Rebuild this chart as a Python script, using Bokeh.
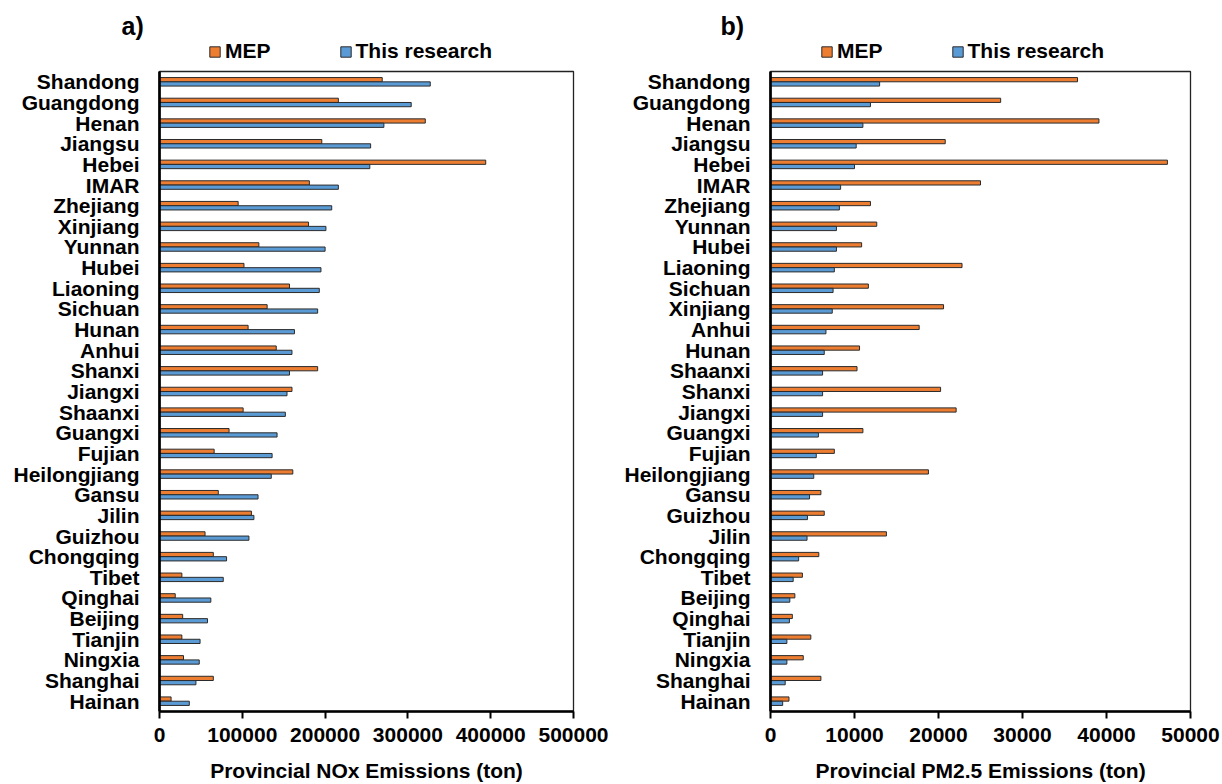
from bokeh.plotting import figure
from bokeh.layouts import row, column
from bokeh.models import (ColumnDataSource, FactorRange, Range1d, FixedTicker,
                          NumeralTickFormatter, Legend, LegendItem, Label)
from bokeh.transform import dodge
from bokeh.embed import file_html
from bokeh.resources import INLINE

# ---------------- data ----------------
nox_provinces = ["Shandong", "Guangdong", "Henan", "Jiangsu", "Hebei", "IMAR", "Zhejiang",
                 "Xinjiang", "Yunnan", "Hubei", "Liaoning", "Sichuan", "Hunan", "Anhui",
                 "Shanxi", "Jiangxi", "Shaanxi", "Guangxi", "Fujian", "Heilongjiang", "Gansu",
                 "Jilin", "Guizhou", "Chongqing", "Tibet", "Qinghai", "Beijing", "Tianjin",
                 "Ningxia", "Shanghai", "Hainan"]
nox_mep = [269000, 216000, 321000, 196000, 394000, 181000, 95000,
           180000, 120000, 102000, 157000, 130000, 107000, 141000,
           191000, 160000, 101000, 84000, 66000, 161000, 71000,
           111000, 55000, 65000, 27000, 19000, 28000, 27000,
           29000, 65000, 14000]
nox_this = [327000, 304000, 271000, 255000, 254000, 216000, 208000,
            201000, 200000, 195000, 193000, 191000, 163000, 160000,
            157000, 154000, 152000, 142000, 136000, 135000, 119000,
            114000, 108000, 81000, 77000, 62000, 58000, 49000,
            48000, 44000, 36000]

pm_provinces = ["Shandong", "Guangdong", "Henan", "Jiangsu", "Hebei", "IMAR", "Zhejiang",
                "Yunnan", "Hubei", "Liaoning", "Sichuan", "Xinjiang", "Anhui", "Hunan",
                "Shaanxi", "Shanxi", "Jiangxi", "Guangxi", "Fujian", "Heilongjiang", "Gansu",
                "Guizhou", "Jilin", "Chongqing", "Tibet", "Beijing", "Qinghai", "Tianjin",
                "Ningxia", "Shanghai", "Hainan"]
pm_mep = [36550, 27400, 39100, 20800, 47250, 25000, 11900,
          12650, 10850, 22800, 11650, 20600, 17700, 10600,
          10300, 20250, 22100, 11000, 7600, 18800, 6000,
          6400, 13800, 5750, 3800, 2900, 2600, 4800,
          3900, 6000, 2200]
pm_this = [12990, 11900, 11000, 10200, 10000, 8350, 8200,
           7850, 7850, 7600, 7450, 7350, 6600, 6400,
           6200, 6200, 6200, 5700, 5450, 5150, 4650,
           4400, 4350, 3350, 2700, 2300, 2250, 1950,
           1950, 1750, 1450]

nox_ticks = [0, 100000, 200000, 300000, 400000, 500000]
pm_ticks = [0, 10000, 20000, 30000, 40000, 50000]

series_names = ["MEP", "This research"]

# ---------------- style ----------------
FONT = "Liberation Sans"
FS = "21px"
ORANGE = "#ED7D31"
BLUE = "#5B9BD5"
EDGE = "#2b2b2b"
W = 611
HEAD_H = 66
MAIN_H = 784 - HEAD_H
TOP = 5
BOTTOM = 71
LEFT = 159


def make_header(tag, tag_x, legend_x, provs, mep, this):
    h = figure(width=W, height=HEAD_H,
               x_range=Range1d(0, max(mep + this)),
               y_range=FactorRange(factors=["legend"]),
               x_axis_type=None, y_axis_type=None, output_backend="svg",
               toolbar_location=None, min_border=0, frame_align=False)
    h.outline_line_color = None
    h.xgrid.visible = False
    h.ygrid.visible = False
    h.background_fill_color = "white"
    h.border_fill_color = "white"
    # legend-only renderers: their bars sit on categories that are not on this
    # header's range, so only the legend swatches are drawn
    src = ColumnDataSource(dict(prov=provs, mep=mep, this=this))
    d1 = h.hbar(y="prov", right="mep", left=0, height=0.2, source=src,
                fill_color=ORANGE, line_color=EDGE, line_width=1)
    d2 = h.hbar(y="prov", right="this", left=0, height=0.2, source=src,
                fill_color=BLUE, line_color=EDGE, line_width=1)
    legend = Legend(items=[LegendItem(label=series_names[0], renderers=[d1]),
                           LegendItem(label=series_names[1], renderers=[d2])],
                    orientation="horizontal", location=(legend_x, 3),
                    glyph_width=13, glyph_height=13, label_standoff=4, spacing=68,
                    padding=0, margin=0, border_line_color=None,
                    background_fill_alpha=0,
                    label_text_font=FONT, label_text_font_size=FS,
                    label_text_font_style="bold", label_text_color="black")
    h.add_layout(legend)
    h.add_layout(Label(x=tag_x, y=HEAD_H - 25,
                       x_units="screen", y_units="screen",
                       text=tag, text_font=FONT, text_font_size="25px",
                       text_font_style="bold", text_color="black",
                       text_baseline="alphabetic"))
    return h


def make_panel(provs, mep, this, ticks, xlabel, br):
    src = ColumnDataSource(dict(prov=provs, mep=mep, this=this))
    p = figure(width=W, height=MAIN_H,
               y_range=FactorRange(factors=provs[::-1]),
               x_range=Range1d(ticks[0], ticks[-1]),
               output_backend="svg", toolbar_location=None, frame_align=False,
               min_border_left=LEFT, min_border_right=br,
               min_border_top=TOP, min_border_bottom=BOTTOM)
    p.background_fill_color = "white"
    p.border_fill_color = "white"
    p.outline_line_color = "#222222"
    p.outline_line_width = 1.3

    p.hbar(y=dodge("prov", 0.104, range=p.y_range), left=0, right="mep",
           height=0.205, source=src, fill_color=ORANGE, line_color=EDGE, line_width=1)
    p.hbar(y=dodge("prov", -0.104, range=p.y_range), left=0, right="this",
           height=0.205, source=src, fill_color=BLUE, line_color=EDGE, line_width=1)

    p.xgrid.visible = False
    p.ygrid.visible = False

    xa = p.xaxis[0]
    xa.ticker = FixedTicker(ticks=ticks)
    xa.formatter = NumeralTickFormatter(format="0")
    xa.axis_line_width = 2.7
    xa.axis_line_color = "black"
    xa.major_tick_out = 7
    xa.major_tick_in = 0
    xa.major_tick_line_width = 2
    xa.major_tick_line_color = "black"
    xa.minor_tick_line_color = None
    xa.major_label_text_font = FONT
    xa.major_label_text_font_size = FS
    xa.major_label_text_font_style = "bold"
    xa.major_label_text_color = "black"
    xa.major_label_standoff = 9
    xa.axis_label = xlabel
    xa.axis_label_text_font = FONT
    xa.axis_label_text_font_size = FS
    xa.axis_label_text_font_style = "bold"
    xa.axis_label_text_color = "black"
    xa.axis_label_standoff = 14

    ya = p.yaxis[0]
    ya.axis_line_width = 2.7
    ya.axis_line_color = "black"
    ya.major_tick_out = 0
    ya.major_tick_in = 0
    ya.major_tick_line_color = None
    ya.minor_tick_line_color = None
    ya.major_label_text_font = FONT
    ya.major_label_text_font_size = FS
    ya.major_label_text_font_style = "bold"
    ya.major_label_text_color = "black"
    ya.major_label_standoff = 20
    return p


h1 = make_header("a)", 121, LEFT + 49, nox_provinces, nox_mep, nox_this)
p1 = make_panel(nox_provinces, nox_mep, nox_this, nox_ticks,
                "Provincial NOx Emissions (ton)", 38)
h2 = make_header("b)", 109, LEFT + 50, pm_provinces, pm_mep, pm_this)
p2 = make_panel(pm_provinces, pm_mep, pm_this, pm_ticks,
                "Provincial PM2.5 Emissions (ton)", 32)

layout = row(column(h1, p1, spacing=0), column(h2, p2, spacing=0), spacing=0)
open("out.html", "w").write(file_html(layout, INLINE))
